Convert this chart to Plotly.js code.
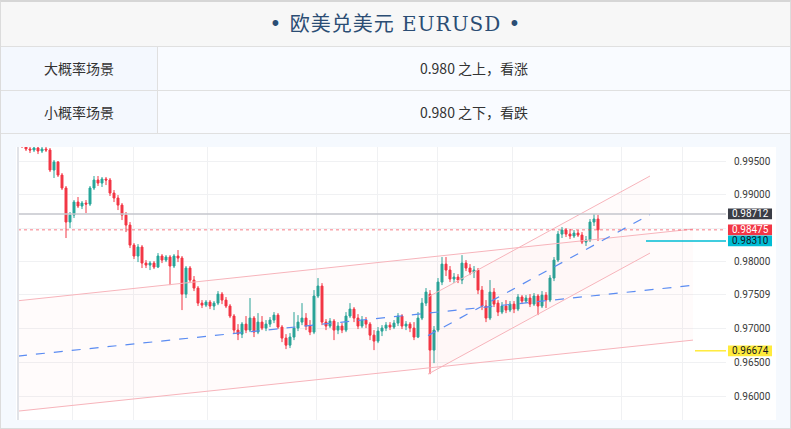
<!DOCTYPE html>
<html><head><meta charset="utf-8">
<script src="https://cdn.plot.ly/plotly-3.0.1.min.js"></script>
<style>
html,body{margin:0;padding:0;background:#fff;}
#wrap{position:absolute;left:0;top:0;width:789px;height:426px;border:1px solid #dcdcdc;border-top:2px solid #d6d6d6;background:#f5f9fe;overflow:hidden;}
.title{height:44px;line-height:44px;background:#f7f7f7;border-bottom:1px solid #e0e0e0;text-align:center;font-family:"DejaVu Serif","Liberation Serif","Noto Sans CJK SC",serif;font-size:20px;color:#2b4d74;letter-spacing:1px;}
.row{display:flex;border-bottom:1px solid #e0e0e0;font-family:"Noto Sans CJK SC",sans-serif;font-size:14px;color:#333;}
.c1{width:156px;border-right:1px solid #e0e0e0;background:#f4f8fe;text-align:center;}
.c2{flex:1;background:#f9fbff;text-align:center;}
#chart{position:absolute;left:16px;top:147px;width:760px;height:273px;}
</style></head>
<body>
<div id="wrap">
  <div class="title">• 欧美兑美元 EURUSD •</div>
  <div class="row" style="height:43px;line-height:43px;"><div class="c1">大概率场景</div><div class="c2">0.980 之上，看涨</div></div>
  <div class="row" style="height:42px;line-height:42px;"><div class="c1">小概率场景</div><div class="c2">0.980 之下，看跌</div></div>
</div>
<div id="chart"></div>
<script>
// OHLC candles (EURUSD)
const opens = [
0.99768,0.99724,0.99679,0.99664,0.99694,0.99649,0.99679,0.99664,0.99366,0.99485,
0.99291,0.99098,0.98591,0.98695,0.98889,0.98830,0.98874,0.98859,0.99098,0.99217,
0.99172,0.99232,0.99217,0.99023,0.98949,0.98844,0.98695,0.98546,0.98248,0.98085,
0.98219,0.97980,0.97950,0.97980,0.97921,0.98085,0.98025,0.98070,0.97936,0.98085,
0.98055,0.97518,0.97906,0.97727,0.97608,0.97384,0.97354,0.97399,0.97340,0.97384,
0.97518,0.97429,0.97340,0.97191,0.96982,0.96922,0.97071,0.96982,0.97161,0.96952,
0.97101,0.97012,0.97071,0.97131,0.97205,0.97027,0.96863,0.96758,0.96878,0.97012,
0.97101,0.97161,0.97042,0.96952,0.97489,0.97638,0.97101,0.97042,0.97116,0.96982,
0.97042,0.96982,0.97191,0.97295,0.97161,0.97042,0.97131,0.97071,0.96907,0.96818,
0.96967,0.97012,0.97056,0.97027,0.97086,0.97191,0.97042,0.97071,0.97012,0.96878,
0.97161,0.97384,0.97518,0.96684,0.96982,0.97697,0.97965,0.97876,0.97742,0.97772,
0.97727,0.97980,0.97906,0.97846,0.97876,0.97578,0.97340,0.97161,0.97548,0.97384,
0.97250,0.97340,0.97280,0.97369,0.97295,0.97474,0.97414,0.97459,0.97369,0.97489,
0.97340,0.97503,0.97429,0.97757,0.98025,0.98412,0.98472,0.98412,0.98383,0.98427,
0.98397,0.98293,0.98323,0.98591,0.98636];
const closes = [
0.99724,0.99679,0.99664,0.99694,0.99649,0.99679,0.99664,0.99366,0.99485,0.99291,
0.99098,0.98591,0.98695,0.98889,0.98830,0.98874,0.98859,0.99098,0.99217,0.99172,
0.99232,0.99217,0.99023,0.98949,0.98844,0.98695,0.98546,0.98248,0.98085,0.98219,
0.97980,0.97950,0.97980,0.97921,0.98085,0.98025,0.98070,0.97936,0.98085,0.98055,
0.97518,0.97906,0.97727,0.97608,0.97384,0.97354,0.97399,0.97340,0.97384,0.97518,
0.97429,0.97340,0.97191,0.96982,0.96922,0.97071,0.96982,0.97161,0.96952,0.97101,
0.97012,0.97071,0.97131,0.97205,0.97027,0.96863,0.96758,0.96878,0.97012,0.97101,
0.97161,0.97042,0.96952,0.97489,0.97638,0.97101,0.97042,0.97116,0.96982,0.97042,
0.96982,0.97191,0.97295,0.97161,0.97042,0.97131,0.97071,0.96907,0.96818,0.96967,
0.97012,0.97056,0.97027,0.97086,0.97191,0.97042,0.97071,0.97012,0.96878,0.97161,
0.97384,0.97548,0.96684,0.96982,0.97697,0.97965,0.97876,0.97742,0.97772,0.97727,
0.97980,0.97906,0.97846,0.97876,0.97578,0.97340,0.97161,0.97548,0.97369,0.97250,
0.97340,0.97280,0.97369,0.97295,0.97474,0.97414,0.97459,0.97369,0.97489,0.97340,
0.97503,0.97429,0.97757,0.98025,0.98412,0.98472,0.98412,0.98383,0.98427,0.98397,
0.98293,0.98323,0.98591,0.98636,0.98475];
const highs = [
0.99813,0.99753,0.99709,0.99724,0.99709,0.99709,0.99709,0.99694,0.99515,0.99500,
0.99321,0.99128,0.98740,0.98919,0.98964,0.98904,0.98919,0.99128,0.99277,0.99277,
0.99262,0.99262,0.99247,0.99068,0.98993,0.98874,0.98740,0.98591,0.98278,0.98263,
0.98248,0.98025,0.98010,0.98010,0.98129,0.98114,0.98099,0.98099,0.98114,0.98174,
0.98085,0.97936,0.97936,0.97787,0.97638,0.97429,0.97429,0.97429,0.97414,0.97563,
0.97548,0.97474,0.97369,0.97220,0.97071,0.97101,0.97191,0.97459,0.97191,0.97235,
0.97191,0.97131,0.97176,0.97250,0.97235,0.97056,0.96922,0.96937,0.97250,0.97205,
0.97384,0.97235,0.97131,0.97578,0.97757,0.97682,0.97146,0.97161,0.97146,0.97101,
0.97086,0.97250,0.97384,0.97325,0.97220,0.97191,0.97176,0.97101,0.96982,0.97027,
0.97056,0.97101,0.97101,0.97131,0.97235,0.97220,0.97116,0.97101,0.97101,0.97250,
0.97459,0.97608,0.97578,0.97042,0.97757,0.98070,0.98070,0.97936,0.97831,0.97816,
0.98099,0.98025,0.97965,0.97936,0.97906,0.97638,0.97429,0.97727,0.97608,0.97429,
0.97399,0.97429,0.97414,0.97414,0.97518,0.97503,0.97503,0.97518,0.97533,0.97518,
0.97563,0.97548,0.97801,0.98070,0.98457,0.98517,0.98502,0.98487,0.98472,0.98472,
0.98442,0.98383,0.98636,0.98712,0.98700];
const lows = [
0.99694,0.99649,0.99619,0.99634,0.99604,0.99619,0.99634,0.99336,0.99247,0.99262,
0.99068,0.98353,0.98502,0.98651,0.98800,0.98785,0.98725,0.98830,0.99068,0.99128,
0.99113,0.99142,0.98979,0.98889,0.98770,0.98621,0.98442,0.98204,0.98040,0.97995,
0.97906,0.97906,0.97876,0.97891,0.97906,0.97980,0.97995,0.97652,0.97906,0.97995,
0.97280,0.97459,0.97682,0.97563,0.97340,0.97310,0.97325,0.97295,0.97280,0.97354,
0.97369,0.97310,0.97161,0.96937,0.96833,0.96863,0.96937,0.96952,0.96878,0.96922,
0.96982,0.96967,0.97027,0.97086,0.96997,0.96803,0.96699,0.96714,0.96833,0.96967,
0.97056,0.96982,0.96907,0.96922,0.97459,0.97056,0.96982,0.97012,0.96833,0.96922,
0.96937,0.96952,0.97161,0.97101,0.96997,0.97012,0.97012,0.96833,0.96684,0.96788,
0.96893,0.96967,0.96982,0.96997,0.97042,0.96997,0.96982,0.96952,0.96833,0.96863,
0.97131,0.97340,0.96326,0.96490,0.96952,0.97652,0.97787,0.97697,0.97682,0.97682,
0.97667,0.97861,0.97801,0.97757,0.97518,0.97280,0.97101,0.97131,0.97325,0.97191,
0.97220,0.97235,0.97250,0.97235,0.97265,0.97369,0.97384,0.97325,0.97340,0.97205,
0.97310,0.97310,0.97399,0.97712,0.97995,0.98353,0.98368,0.98338,0.98353,0.98368,
0.98263,0.98234,0.98293,0.98532,0.98310];
const barIndex = opens.map((_, i) => i);

// y-axis ticks
const yTickVals = [0.995, 0.990, 0.985, 0.980, 0.97509, 0.970, 0.965, 0.960];
const yTickText = ['0.99500','0.99000','','0.98000','0.97509','0.97000','0.96500','0.96000'];
// vertical grid positions (bar index)
const xGridVals = [12.5, 27.75, 46.25, 73.5, 88.75, 103.75, 122.5, 149.75, 165];

// long channel (bar index, price)
const longUpperX = [-1, 167.75], longUpperY = [0.97419, 0.98487];
const longLowerX = [-1, 167.75], longLowerY = [0.95775, 0.96833];
const longMidX = [-1, 168.25], longMidY = [0.96595, 0.97652];
// steep channel
const steepUpperX = [101.5, 157], steepUpperY = [0.97474, 0.99277];
const steepLowerX = [101.5, 157], steepLowerY = [0.96326, 0.98129];
const steepMidX = [101.5, 157], steepMidY = [0.96900, 0.98703];

// price levels
const levelHigh = 0.98712, levelLast = 0.98475, levelCyan = 0.98310, levelYellow = 0.96674;
const cyanStart = 156, yellowStart = 168.25;

const pink = '#f7b4bb', blue = '#5b8cf2';
const traces = [
  {type:'scatter', mode:'lines', x:[longUpperX[0],longUpperX[1],longLowerX[1],longLowerX[0]],
   y:[longUpperY[0],longUpperY[1],longLowerY[1],longLowerY[0]], fill:'toself',
   fillcolor:'rgba(242,54,69,0.02)', line:{width:0}, hoverinfo:'skip'},
  {type:'scatter', mode:'lines', x:[steepUpperX[0],steepUpperX[1],steepLowerX[1],steepLowerX[0]],
   y:[steepUpperY[0],steepUpperY[1],steepLowerY[1],steepLowerY[0]], fill:'toself',
   fillcolor:'rgba(242,54,69,0.02)', line:{width:0}, hoverinfo:'skip'},
  {type:'candlestick', x:barIndex, open:opens, high:highs, low:lows, close:closes,
   increasing:{line:{color:'#26a69a', width:1}, fillcolor:'#26a69a'},
   decreasing:{line:{color:'#f23645', width:1}, fillcolor:'#f23645'},
   whiskerwidth:0, hoverinfo:'skip'},
  {type:'scatter', mode:'lines', x:longUpperX, y:longUpperY, line:{color:pink, width:1}},
  {type:'scatter', mode:'lines', x:longLowerX, y:longLowerY, line:{color:pink, width:1}},
  {type:'scatter', mode:'lines', x:longMidX, y:longMidY, line:{color:blue, width:1.2, dash:'dash'}},
  {type:'scatter', mode:'lines', x:steepUpperX, y:steepUpperY, line:{color:pink, width:1}},
  {type:'scatter', mode:'lines', x:steepLowerX, y:steepLowerY, line:{color:pink, width:1}},
  {type:'scatter', mode:'lines', x:steepMidX, y:steepMidY, line:{color:blue, width:1.2, dash:'dash'}}
];

const boxX0 = 1.0028, boxX1 = 1.065, boxXc = 1.0339, boxH = 0.0008;
const labels = [
  {v:levelHigh, bg:'#3a3d46', fg:'#ffffff'},
  {v:levelLast, bg:'#f23645', fg:'#ffffff'},
  {v:levelCyan, bg:'#00bcd4', fg:'#131722'},
  {v:levelYellow, bg:'#ffeb3b', fg:'#131722'}
];
const shapes = [
  {type:'line', xref:'paper', yref:'y', x0:0, x1:1, y0:levelHigh, y1:levelHigh, line:{color:'#c4c6cc', width:1.5}, layer:'above'},
  {type:'line', xref:'paper', yref:'y', x0:0, x1:1, y0:levelLast, y1:levelLast, line:{color:'rgba(242,54,69,0.65)', width:1, dash:'dot'}, layer:'above'},
  {type:'line', xref:'x', yref:'y', x0:cyanStart, x1:176, y0:levelCyan, y1:levelCyan, line:{color:'#00bcd4', width:1.5}, layer:'above'},
  {type:'line', xref:'x', yref:'y', x0:yellowStart, x1:176, y0:levelYellow, y1:levelYellow, line:{color:'#ffeb3b', width:1.5}, layer:'above'},
  {type:'line', xref:'paper', yref:'paper', x0:0, x1:0, y0:0, y1:1, line:{color:'#e1e3e8', width:2}, layer:'above'}
];
const annotations = [];
labels.forEach(l => {
  shapes.push({type:'rect', xref:'paper', yref:'y', x0:boxX0, x1:boxX1, y0:l.v-boxH, y1:l.v+boxH,
    fillcolor:l.bg, line:{width:0}, layer:'above'});
  annotations.push({xref:'paper', yref:'y', x:boxXc, y:l.v, xanchor:'center', yanchor:'middle',
    text:l.v.toFixed(5), showarrow:false, font:{family:'Roboto, Arial, sans-serif', size:10, color:l.fg}});
});

const layout = {
  width:760, height:273, margin:{l:2, r:50, t:0, b:0},
  paper_bgcolor:'#ffffff', plot_bgcolor:'#ffffff', showlegend:false,
  xaxis:{range:[-1,176], tickvals:xGridVals, showticklabels:false, showgrid:true, gridcolor:'#f0f1f3',
    zeroline:false, showline:false, ticks:'', rangeslider:{visible:false}, fixedrange:true},
  yaxis:{side:'right', range:[0.95643,0.99709], tickvals:yTickVals, ticktext:yTickText, showgrid:true,
    gridcolor:'#f0f1f3', zeroline:false, showline:false, ticks:'', ticklabelstandoff:7,
    tickfont:{family:'Roboto, Arial, sans-serif', size:10, color:'#3a3a3a'}, fixedrange:true},
  shapes:shapes, annotations:annotations
};
Plotly.newPlot('chart', traces, layout, {staticPlot:true, displayModeBar:false});
</script>
</body></html>
